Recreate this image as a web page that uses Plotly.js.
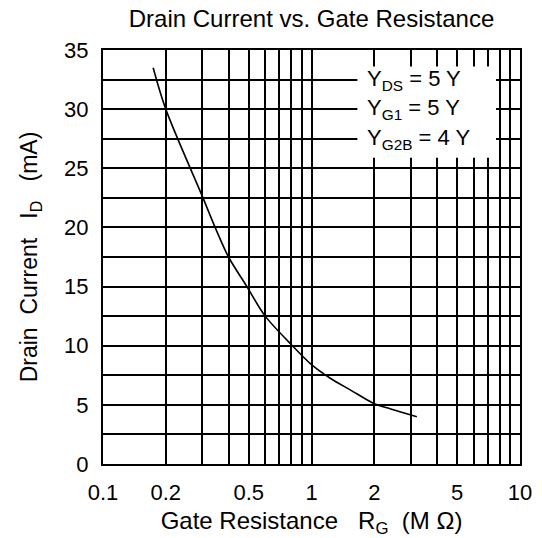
<!DOCTYPE html>
<html>
<head>
<meta charset="utf-8">
<script src="https://cdn.plot.ly/plotly-3.0.1.min.js"></script>
<style>html,body{margin:0;padding:0;background:#fff;}#chart{width:542px;height:538px;}</style>
</head>
<body>
<div id="chart"></div>
<script>
// Curve (Gate resistance in MΩ, drain current in mA)
const gateResistance = [0.174, 0.2, 0.3, 0.345, 0.4, 0.49, 0.6, 0.81, 1.0, 1.23, 1.54, 2.0, 2.4, 3.2];
const drainCurrent   = [33.5, 30.0, 22.6, 20.0, 17.5, 15.0, 12.5, 10.0, 8.4, 7.25, 6.25, 5.1, 4.65, 4.0];

// Axis ticks (labelled) and extra grid positions (unlabelled)
const xTickVals  = [0.1, 0.2, 0.5, 1, 2, 5, 10];
const xTickText  = ['0.1', '0.2', '0.5', '1', '2', '5', '10'];
const xGridVals  = [0.3, 0.4, 0.6, 0.7, 0.8, 0.9, 3, 4, 6, 7, 8, 9];
const yTickVals  = [0, 5, 10, 15, 20, 25, 30, 35];
const yGridVals  = [2.5, 7.5, 12.5, 17.5, 22.5, 27.5, 32.5];

// Condition labels
const conditionLabels = ['Y<sub>DS</sub> = 5 Y', 'Y<sub>G1</sub> = 5 Y', 'Y<sub>G2B</sub> = 4 Y'];
const conditionY = [32.5, 30, 27.5];

const FONT = 'Liberation Sans, Arial, sans-serif';

const trace = {
  x: gateResistance, y: drainCurrent, type: 'scatter', mode: 'lines',
  line: {color: '#000', width: 1.6, shape: 'spline', smoothing: 0.9},
  hoverinfo: 'skip', showlegend: false
};

const annotations = conditionLabels.map((t, i) => ({
  text: t, xref: 'x', yref: 'y', x: Math.log10(1.8), y: conditionY[i],
  xanchor: 'left', yanchor: 'middle', showarrow: false,
  font: {family: FONT, size: 22, color: '#000'}
}));

const layout = {
  width: 542, height: 538,
  margin: {l: 103, r: 22, t: 50, b: 74},
  paper_bgcolor: '#fff', plot_bgcolor: '#fff',
  showlegend: false,
  title: {text: 'Drain Current vs. Gate Resistance', x: 0.5, xref: 'paper', xanchor: 'center',
          y: 1 - 19/538, yref: 'container', yanchor: 'middle',
          font: {family: FONT, size: 24, color: '#000'}},
  xaxis: {
    type: 'log', range: [-1, 1],
    tickmode: 'array', tickvals: xTickVals, ticktext: xTickText,
    showgrid: true, gridcolor: '#000', gridwidth: 2,
    minor: {tickmode: 'array', tickvals: xGridVals, showgrid: true, gridcolor: '#000', gridwidth: 2, ticks: ''},
    showline: true, linecolor: '#000', linewidth: 2, mirror: true,
    ticks: '', ticklabelstandoff: 8,
    tickfont: {family: FONT, size: 22, color: '#000'},
    zeroline: false,
    title: {text: 'Gate Resistance &nbsp; R<sub>G</sub> &nbsp;(M Ω)', standoff: 12,
            font: {family: FONT, size: 24, color: '#000'}}
  },
  yaxis: {
    range: [0, 35],
    tickmode: 'array', tickvals: yTickVals,
    showgrid: true, gridcolor: '#000', gridwidth: 2,
    minor: {tickmode: 'array', tickvals: yGridVals, showgrid: true, gridcolor: '#000', gridwidth: 2, ticks: ''},
    showline: true, linecolor: '#000', linewidth: 2, mirror: true,
    ticks: '', ticklabelstandoff: 8,
    tickfont: {family: FONT, size: 22, color: '#000'},
    zeroline: false,
    title: {text: 'Drain &nbsp;Current &nbsp; I<sub>D</sub> &nbsp; (mA)', standoff: 20,
            font: {family: FONT, size: 23, color: '#000'}}
  },
  shapes: [{
    type: 'rect', xref: 'x', yref: 'y', layer: 'above',
    x0: 1.66, x1: 7.67, y0: 25.9, y1: 33.6,
    fillcolor: '#fff', line: {width: 0}
  }],
  annotations: annotations
};

Plotly.newPlot('chart', [trace], layout, {staticPlot: true, displayModeBar: false});
</script>
</body>
</html>
